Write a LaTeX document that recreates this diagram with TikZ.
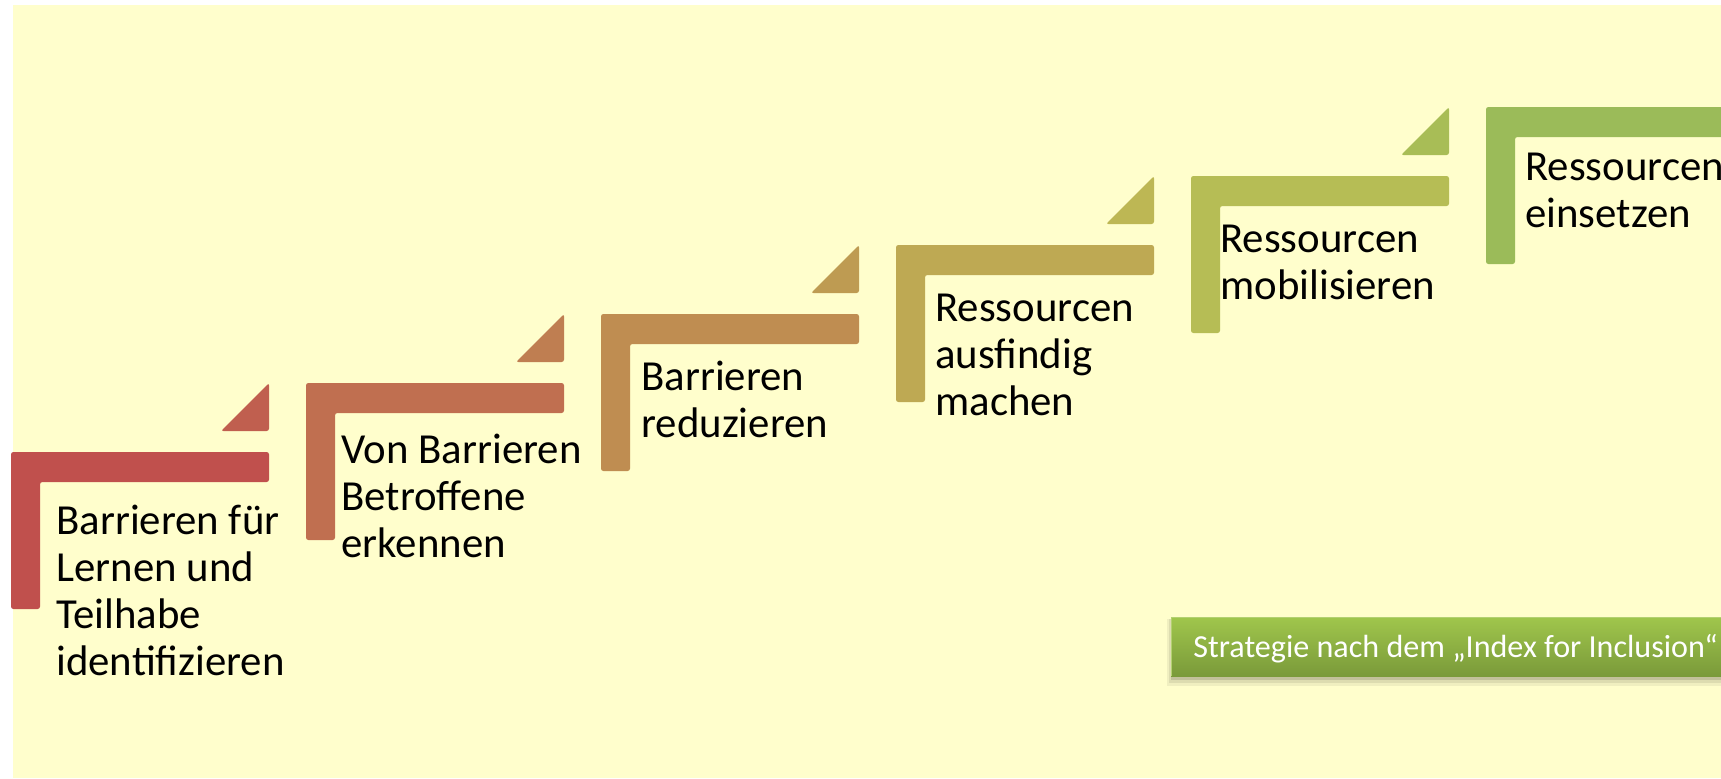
\documentclass[tikz,border=0pt]{standalone}
\usepackage{fontspec}
\setmainfont{Carlito}
\definecolor{bg}{RGB}{255,254,204}
\definecolor{st1}{RGB}{192,80,77}
\definecolor{st2}{RGB}{192,111,80}
\definecolor{st3}{RGB}{191,141,81}
\definecolor{st4}{RGB}{190,169,83}
\definecolor{st5}{RGB}{182,189,85}
\definecolor{st6}{RGB}{155,187,89}
\definecolor{tr1}{RGB}{192,95,79}
\definecolor{tr2}{RGB}{191,126,81}
\definecolor{tr3}{RGB}{190,155,82}
\definecolor{tr4}{RGB}{189,183,84}
\definecolor{tr5}{RGB}{168,189,86}
\definecolor{labtop}{RGB}{160,198,76}
\definecolor{labbot}{RGB}{122,154,58}
\tikzset{
  stepbar/.style={rounded corners=1.2pt},
  steptext/.style={anchor=base west, inner sep=0pt, font=\fontsize{21.4}{23.5}\selectfont, text=black},
  labtext/.style={anchor=base west, inner sep=0pt, font=\fontsize{16.05}{18}\selectfont, text=white}
}
\begin{document}
\begin{tikzpicture}[x=0.5pt,y=-0.5pt]
\useasboundingbox (0,0) rectangle (1721,778);
\fill[white] (0,0) rectangle (1721,778);
\clip (0,0) rectangle (1721,778);
\fill[bg] (13,5) rectangle (1721,778);
% steps
\foreach \i/\c in {0/st1,1/st2,2/st3,3/st4,4/st5,5/st6}{
  \fill[\c, stepbar] ({11+295*\i},{452-69*\i}) -- ++(258,0) -- ++(0,30) -- ++(-229,0) -- ++(0,127) -- ++(-29,0) -- cycle;
}
% triangles
\foreach \i/\c in {0/tr1,1/tr2,2/tr3,3/tr4,4/tr5}{
  \fill[\c, stepbar] ({269+295*\i},{383-69*\i}) -- ++(0,48) -- ++(-48,0) -- cycle;
}
% texts
\node[steptext] (s1) at (56,534) {\vtop{\hbox{Barrieren für}\hbox{Lernen und}\hbox{Teilhabe}\hbox{identifizieren}}};
\node[steptext] (s2) at (341,463) {\vtop{\hbox{Von Barrieren}\hbox{Betroffene}\hbox{erkennen}}};
\node[steptext] (s3) at (641,390) {\vtop{\hbox{Barrieren}\hbox{reduzieren}}};
\node[steptext] (s4) at (935,321) {\vtop{\hbox{Ressourcen}\hbox{ausfindig}\hbox{machen}}};
\node[steptext] (s5) at (1220,252) {\vtop{\hbox{Ressourcen}\hbox{mobilisieren}}};
\node[steptext] (s6) at (1525,180) {\vtop{\hbox{Ressourcen}\hbox{einsetzen}}};
% label
\fill[black, opacity=0.06] (1167,619) rectangle (1760,686);
\fill[black, opacity=0.08] (1169,619) rectangle (1760,683);
\fill[black, opacity=0.12] (1171,619) rectangle (1760,680);
\shade[top color=labtop, bottom color=labbot] (1171,617) rectangle (1760,676);
\draw[labtop!80!white, line width=0.4pt] (1171,676) -- (1171,617) -- (1760,617);
\node[labtext] (lab) at (1193,657) {Strategie nach dem „Index for Inclusion“};
\end{tikzpicture}
\end{document}
